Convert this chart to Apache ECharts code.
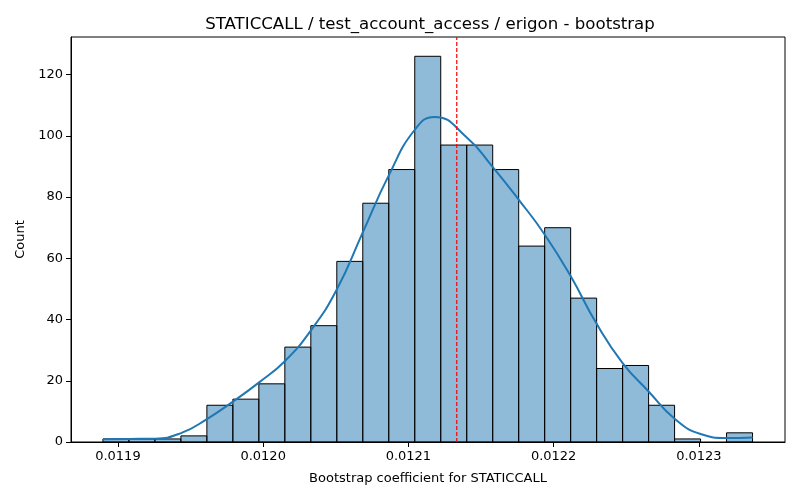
<!DOCTYPE html>
<html>
<head>
<meta charset="utf-8">
<script src="https://cdn.jsdelivr.net/npm/echarts@6/dist/echarts.min.js"></script>
<style>
  html, body { margin: 0; padding: 0; background: #fff; }
  #main { width: 800px; height: 500px; }
</style>
</head>
<body>
<div id="main"></div>
<script>
// 直方图数据
var binStart = 0.0118897;
var binWidth = 0.00001789;
var counts = [1, 1, 1, 2, 12, 14, 19, 31, 38, 59, 78, 89, 126, 97, 97, 89, 64, 70, 47, 24, 25, 12, 1, 0, 3];

// KDE 曲线
var kdeX = [0.0118897, 0.0119076, 0.0119255, 0.0119434, 0.0119613, 0.0119792, 0.0119970,
            0.0120149, 0.0120328, 0.0120507, 0.0120686, 0.0120865, 0.0121044, 0.0121180,
            0.0121402, 0.0121581, 0.0121759, 0.0121938, 0.0122117, 0.0122296,
            0.0122475, 0.0122654, 0.0122833, 0.0123012, 0.0123191, 0.0123370];
var kdeY = [0.9, 1.0, 1.1, 2.9, 7.5, 13.2, 19.4,
            26.4, 36.4, 49.8, 68.5, 87.1, 102.0, 106.2,
            99.5, 89.8, 79.2, 67.8, 54.2, 38.6,
            25.8, 16.5, 7.6, 2.6, 1.3, 1.5];

// 均值（红色虚线）
var meanValue = 0.0121333;
var xMin = 0.0118677, xMax = 0.0123593;
var yMax = 132.3;

var bars = [];
for (var i = 0; i < counts.length; i++) {
  bars.push([binStart + i * binWidth, binStart + (i + 1) * binWidth, counts[i]]);
}
var kde = [];
for (var j = 0; j < kdeX.length; j++) {
  kde.push([kdeX[j], kdeY[j]]);
}

var font = 'DejaVu Sans';
var myChart = echarts.init(document.getElementById('main'));
var option = {
  animation: false,
  title: {
    text: 'STATICCALL / test_account_access / erigon - bootstrap',
    left: 425,
    top: 11,
    textAlign: 'center',
    textStyle: { fontFamily: font, fontSize: 16.6, fontWeight: 'normal', color: '#000' }
  },
  grid: {
    left: 71, right: 15, top: 37, bottom: 58,
    show: true, borderColor: '#000', borderWidth: 1
  },
  xAxis: {
    type: 'value',
    min: xMin,
    max: xMax,
    splitNumber: 5,
    name: 'Bootstrap coefficient for STATICCALL',
    nameLocation: 'middle',
    nameGap: 30,
    nameTextStyle: { fontFamily: font, fontSize: 13, color: '#000' },
    axisLine: { show: true, onZero: false, lineStyle: { color: '#000', width: 1 } },
    axisTick: { show: true, length: 5, lineStyle: { color: '#000' } },
    axisLabel: {
      fontFamily: font, fontSize: 13, color: '#000', margin: 8,
      showMinLabel: false, showMaxLabel: false,
      formatter: function (v) { return v.toFixed(4); }
    },
    splitLine: { show: false }
  },
  yAxis: {
    type: 'value',
    min: 0,
    max: yMax,
    interval: 20,
    name: 'Count',
    nameLocation: 'middle',
    nameGap: 40,
    nameTextStyle: { fontFamily: font, fontSize: 13, color: '#000' },
    axisLine: { show: true, lineStyle: { color: '#000', width: 1 } },
    axisTick: { show: true, length: 5, lineStyle: { color: '#000' } },
    axisLabel: {
      fontFamily: font, fontSize: 13, color: '#000', margin: 8,
      showMaxLabel: false
    },
    splitLine: { show: false }
  },
  series: [
    {
      type: 'custom',
      data: bars,
      clip: true,
      renderItem: function (params, api) {
        if (api.value(2) <= 0) return;
        var p0 = api.coord([api.value(0), api.value(2)]);
        var p1 = api.coord([api.value(1), 0]);
        return {
          type: 'rect',
          shape: { x: p0[0], y: p0[1], width: p1[0] - p0[0], height: p1[1] - p0[1] },
          style: { fill: 'rgba(31,119,180,0.5)', stroke: '#000', lineWidth: 1 }
        };
      },
      encode: { x: [0, 1], y: 2 }
    },
    {
      type: 'line',
      data: kde,
      smooth: 0.5,
      showSymbol: false,
      z: 3,
      lineStyle: { color: '#1f77b4', width: 2 }
    },
    {
      type: 'line',
      data: [[meanValue, 0], [meanValue, yMax]],
      showSymbol: false,
      z: 4,
      lineStyle: { color: '#ff0000', type: [4, 2], width: 1.2 }
    }
  ]
};
myChart.setOption(option);
</script>
</body>
</html>
